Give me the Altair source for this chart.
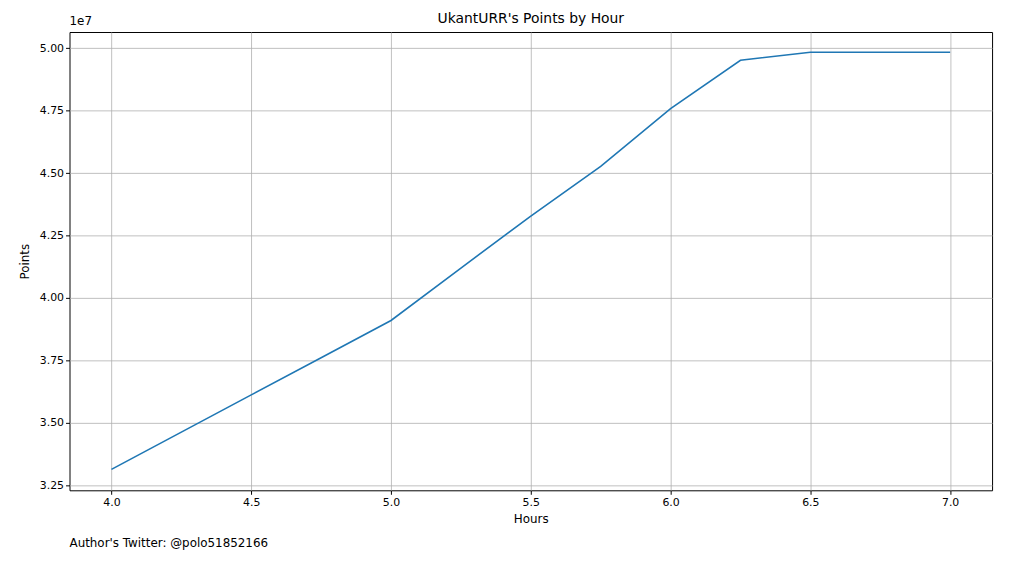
import altair as alt
import pandas as pd

hours = [4.0, 4.25, 4.5, 4.75, 5.0, 5.25, 5.5, 5.75, 6.0, 6.25, 6.5, 6.75, 7.0]
points = [3.314e7, 3.463e7, 3.612e7, 3.761e7, 3.910e7, 4.120e7, 4.328e7, 4.527e7,
          4.758e7, 4.952e7, 4.984e7, 4.984e7, 4.984e7]

df = pd.DataFrame({"hours": hours, "points": [p / 1e7 for p in points]})

font = "DejaVu Sans"

line = alt.Chart(df).mark_line(color="#1f77b4", strokeWidth=1.6).encode(
    x=alt.X("hours:Q", title="Hours", scale=alt.Scale(domain=[3.85, 7.15], nice=False, zero=False),
            axis=alt.Axis(values=[4.0, 4.5, 5.0, 5.5, 6.0, 6.5, 7.0], format=".1f")),
    y=alt.Y("points:Q", title="Points", scale=alt.Scale(domain=[3.23, 5.065], nice=False, zero=False),
            axis=alt.Axis(values=[3.25, 3.5, 3.75, 4.0, 4.25, 4.5, 4.75, 5.0], format=".2f")),
)

one = df.head(1)
offset = alt.Chart(one).mark_text(align="left", baseline="bottom", font=font, fontSize=12).encode(
    x=alt.value(0), y=alt.value(-4), text=alt.value("1e7"))

title = alt.Chart(one).mark_text(align="center", baseline="bottom", font=font, fontSize=14).encode(
    x=alt.value(465), y=alt.value(-6), text=alt.value("UkantURR's Points by Hour"))

author = alt.Chart(one).mark_text(align="left", baseline="middle", font=font, fontSize=12).encode(
    x=alt.value(0), y=alt.value(515), text=alt.value("Author's Twitter: @polo51852166"))

chart = (line + offset + title + author).properties(
    width=930, height=462,
    autosize=alt.AutoSizeParams(type="none"),
    padding={"left": 62, "top": 22, "right": 10, "bottom": 62},
).configure_axis(
    grid=True, gridColor="#b0b0b0", gridWidth=0.8, domain=False,
    tickColor="black", tickSize=4, labelFont=font, labelFontSize=11, labelColor="black",
    titleFont=font, titleFontSize=12, titleFontWeight="normal", titleColor="black",
).configure_axisX(titlePadding=6).configure_axisY(titlePadding=8).configure_view(
    stroke="black", strokeWidth=1
)

chart.save("out.html", embed_options={"renderer": "svg", "actions": False})
